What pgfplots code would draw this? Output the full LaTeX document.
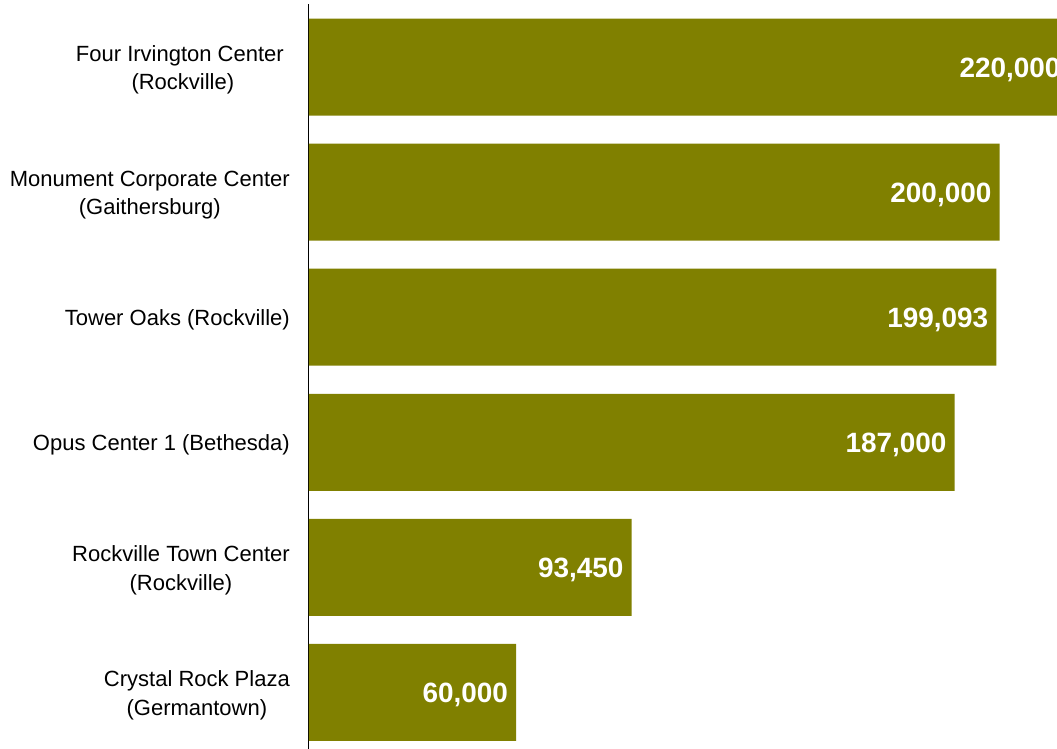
\documentclass[border=0pt]{standalone}
\usepackage{fontspec}
\setmainfont{Liberation Sans}
\usepackage{pgfplots}
\pgfplotsset{compat=1.18}
\definecolor{olivebar}{RGB}{128,128,0}

\begin{document}
\begin{tikzpicture}
\useasboundingbox (0pt,0pt) rectangle (1057pt,749pt);
\clip (0pt,0pt) rectangle (1057pt,749pt);
\begin{axis}[
  at={(309pt,0pt)}, anchor=south west,
  scale only axis, width=748pt, height=745pt,
  clip=false,
  xbar, bar width=97pt,
  xmin=0, xmax=216650,
  ymin=-0.452, ymax=5.504,
  axis x line=none,
  axis y line*=left,
  y axis line style={line width=1pt, -},
  ytick={0,...,5},
  yticklabels={
    {Crystal Rock Plaza\\(Germantown)},
    {Rockville Town Center\\(Rockville)},
    {Opus Center 1 (Bethesda)},
    {Tower Oaks (Rockville)},
    {Monument Corporate Center\\(Gaithersburg)},
    {Four Irvington Center\hspace*{6pt}\\(Rockville)}},
  major tick length=0pt,
  yticklabel style={align=center, font=\fontsize{22}{28.5}\selectfont, inner sep=0pt, xshift=-19pt, yshift=-3pt},
  point meta=x,
  nodes near coords={\pgfmathprintnumber[fixed,precision=0,1000 sep={,},assume math mode=true]{\pgfplotspointmeta}},
  every node near coord/.append style={anchor=east, text=white, font=\fontsize{27.9}{32}\selectfont\bfseries, xshift=-8pt, yshift=-2.5pt, inner sep=0pt},
]
\addplot[fill=olivebar, draw=none] coordinates {(60000,0) (93450,1) (187000,2) (199093,3) (200000,4) (220000,5)};
\end{axis}
\end{tikzpicture}
\end{document}
